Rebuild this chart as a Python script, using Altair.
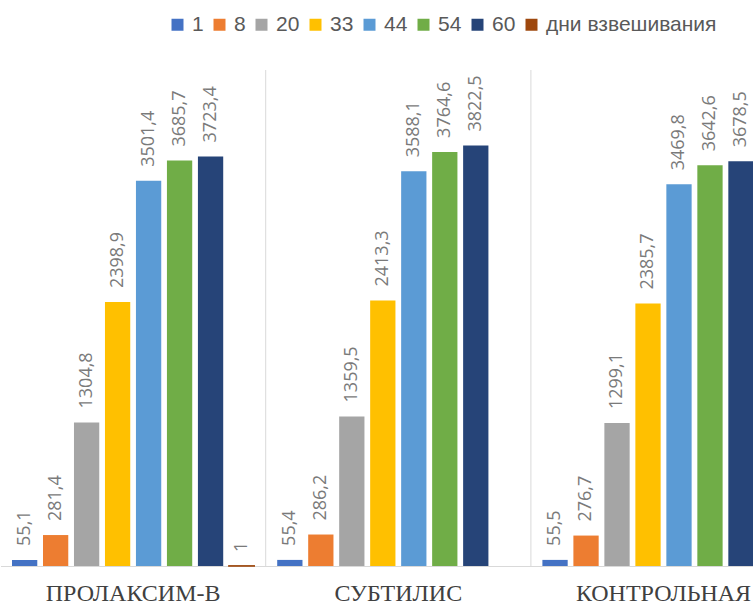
import altair as alt
import pandas as pd

groups = ["ПРОЛАКСИМ-В", "СУБТИЛИС", "КОНТРОЛЬНАЯ"]
series = ["1", "8", "20", "33", "44", "54", "60", "дни взвешивания"]
colors = ["#4472C4", "#ED7D31", "#A5A5A5", "#FFC000", "#5B9BD5", "#70AD47", "#264478", "#9E480E"]

vals_prolaksim = [55.1, 281.4, 1304.8, 2398.9, 3501.4, 3685.7, 3723.4, 1]
vals_subtilis = [55.4, 286.2, 1359.5, 2413.3, 3588.1, 3764.6, 3822.5]
vals_control = [55.5, 276.7, 1299.1, 2385.7, 3469.8, 3642.6, 3678.5]

rows = []
for g, vals in zip(groups, [vals_prolaksim, vals_subtilis, vals_control]):
    for s, v in zip(series, vals):
        rows.append({"group": g, "series": s, "value": v})
df = pd.DataFrame(rows)

sep_df = pd.DataFrame({"group": groups[1:]})

PLOT_H = 495

xscale = alt.Scale(domain=groups, range=[0.5, 796.1], paddingInner=0, paddingOuter=0)

base = alt.Chart(df).encode(
    x=alt.X("group:N", scale=xscale, sort=groups,
            axis=alt.Axis(title=None, ticks=False, labelAngle=0, labelAlign="center",
                          labelFont="Liberation Serif, DejaVu Serif, serif", labelFontSize=24,
                          labelColor="#404040", labelPadding=34,
                          labelBaseline="alphabetic", labelLimit=0,
                          domainColor="#d9d9d9", domainWidth=1, grid=False)),
    xOffset=alt.XOffset("series:N", sort=series,
                        scale=alt.Scale(paddingInner=0.184, paddingOuter=0.371)),
)

bars = base.mark_bar().encode(
    y=alt.Y("value:Q", scale=alt.Scale(domain=[0, 4500], nice=False), axis=None),
    color=alt.Color("series:N", sort=series,
                    scale=alt.Scale(domain=series, range=colors),
                    legend=alt.Legend(title=None, orient="none", direction="horizontal",
                                      legendX=167, legendY=-57,
                                      labelFont="Liberation Sans", labelFontSize=21,
                                      labelColor="#595959", labelLimit=0,
                                      symbolType="square",
                                      symbolSize=144, symbolStrokeWidth=0,
                                      columnPadding=5, labelOffset=4)),
    strokeWidth=alt.condition("datum.value < 10", alt.value(1.6), alt.value(0)),
    stroke=alt.Stroke("series:N", sort=series,
                      scale=alt.Scale(domain=series, range=colors), legend=None),
)

labels = base.transform_calculate(
    label="datum.value == floor(datum.value) ? toString(datum.value) : replace(format(datum.value, '.1f'), '.', ',')"
).mark_text(angle=270, align="left", baseline="middle", dx=14,
            font="Open Sans", fontSize=18, color="#7a7a7a").encode(
    y=alt.Y("value:Q", scale=alt.Scale(domain=[0, 4500], nice=False), axis=None),
    text="label:N",
)

seps = alt.Chart(sep_df).mark_rule(color="#d9d9d9", strokeWidth=1).encode(
    x=alt.X("group:N", scale=xscale, sort=groups, bandPosition=0),
    y=alt.value(-1),
    y2=alt.value(PLOT_H),
)

chart = alt.layer(seps, bars, labels).properties(
    width=753, height=PLOT_H,
    background="white",
    autosize=alt.AutoSizeParams(type="none"),
    padding={"left": 0, "top": 71, "right": 0, "bottom": 38},
).configure_view(strokeWidth=0, stroke="transparent")

chart.save("out.html", embed_options={"renderer": "svg", "actions": False})
